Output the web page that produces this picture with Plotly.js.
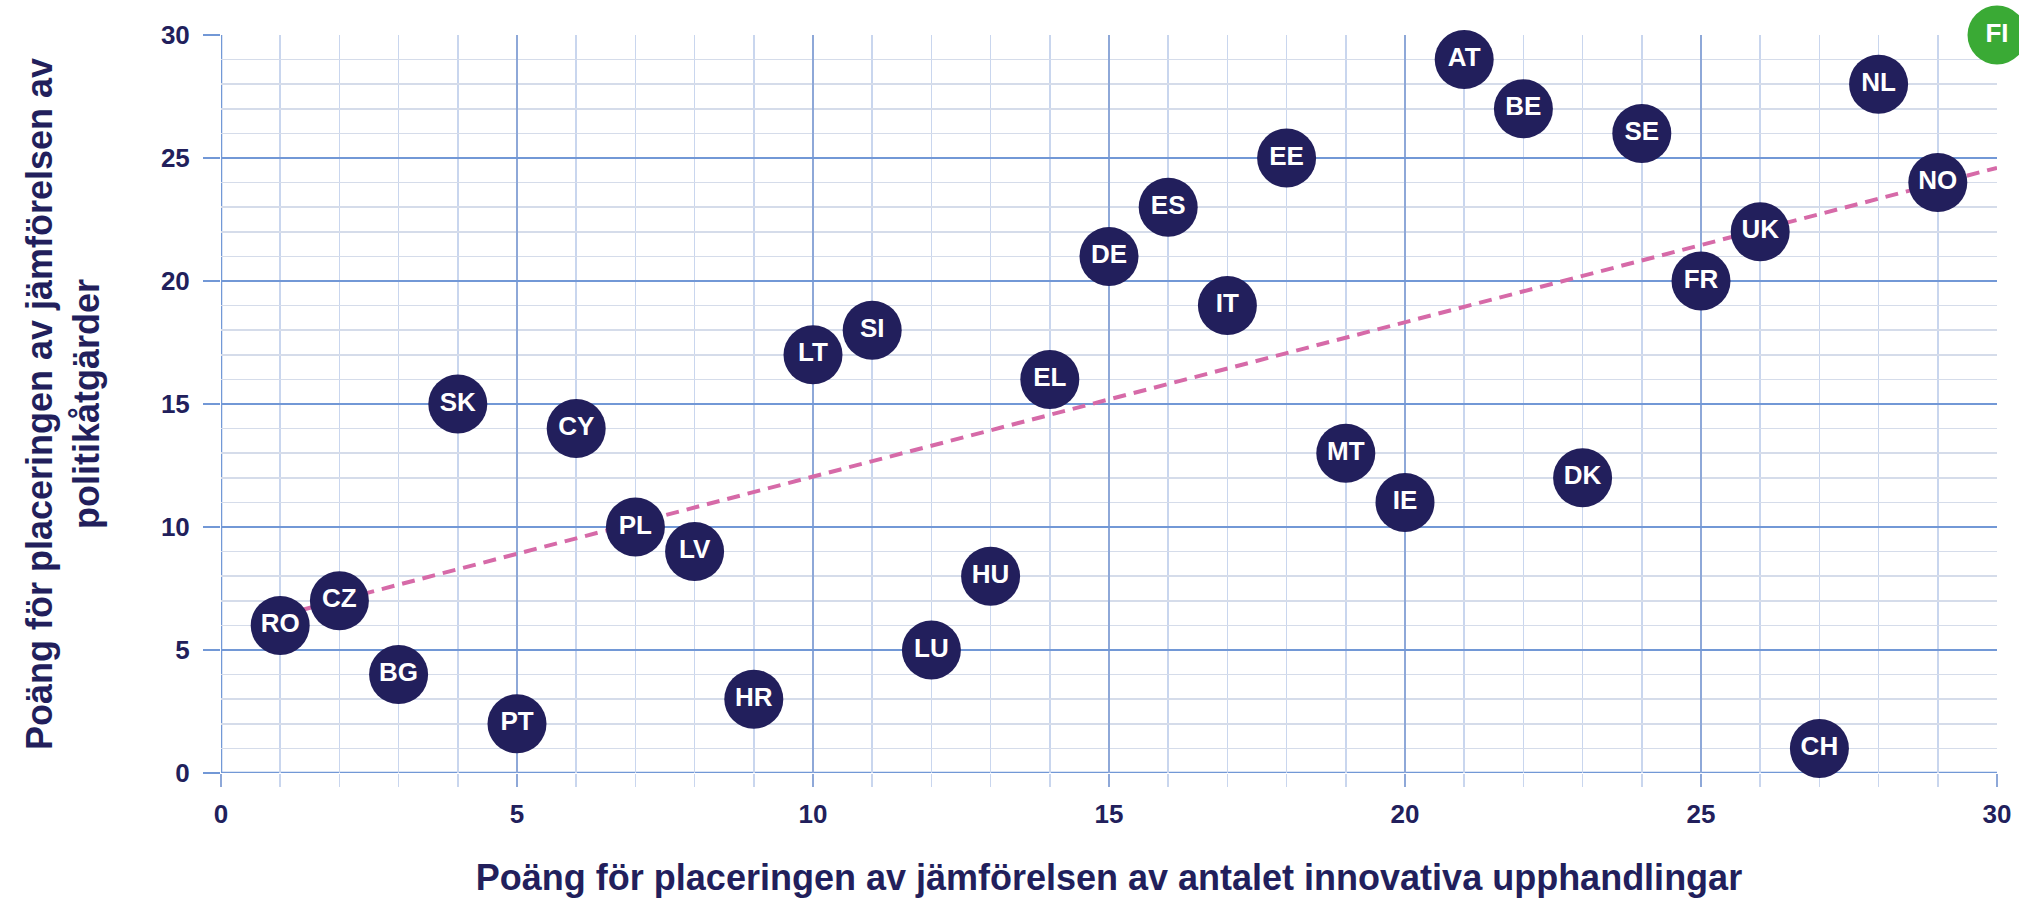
<!DOCTYPE html>
<html>
<head>
<meta charset="utf-8">
<script src="https://cdn.plot.ly/plotly-3.0.1.min.js"></script>
<style>
  html, body { margin: 0; padding: 0; background: #ffffff; }
  #chart { width: 2019px; height: 900px; }
</style>
</head>
<body>
<div id="chart"></div>
<script>
// Countries and their ranking scores
const countries = ["RO","CZ","BG","SK","PT","CY","PL","LV","HR","LT","SI","LU","HU","EL","DE","ES","IT","EE","MT","IE","AT","BE","DK","SE","FR","UK","CH","NL","NO"];
const innovScore = [1,2,3,4,5,6,7,8,9,10,11,12,13,14,15,16,17,18,19,20,21,22,23,24,25,26,27,28,29];
const policyScore = [6,7,4,15,2,14,10,9,3,17,18,5,8,16,21,23,19,25,13,11,29,27,12,26,20,22,1,28,24];

// Highlighted country
const hlCountry = ["FI"];
const hlInnov = [30];
const hlPolicy = [30];

// Trend line
const trendX = [1, 30];
const trendY = [6.4, 24.6];

const navy = "#221f5c";
const font = "Liberation Sans, Arial, sans-serif";

const traces = [
  {
    x: trendX, y: trendY, mode: "lines", type: "scatter",
    line: { color: "#d66aa8", width: 4, dash: "13px,8px" },
    hoverinfo: "skip", cliponaxis: false
  },
  {
    x: innovScore, y: policyScore, text: countries, mode: "markers+text", type: "scatter",
    marker: { size: 59, color: navy, line: { width: 0 } },
    textposition: "middle center",
    textfont: { family: font, size: 26, color: "#ffffff", weight: "bold" },
    cliponaxis: false
  },
  {
    x: hlInnov, y: hlPolicy, text: hlCountry, mode: "markers+text", type: "scatter",
    marker: { size: 59, color: "#3aaa35", line: { width: 0 } },
    textposition: "middle center",
    textfont: { family: font, size: 26, color: "#ffffff", weight: "bold" },
    cliponaxis: false
  }
];

const layout = {
  width: 2019, height: 900,
  margin: { l: 221, r: 22, t: 35, b: 127 },
  paper_bgcolor: "#ffffff", plot_bgcolor: "#ffffff",
  showlegend: false,
  font: { family: font, color: navy },
  xaxis: {
    range: [0, 30], dtick: 5, tick0: 0,
    showgrid: true, gridcolor: "#8ea8d8", gridwidth: 2,
    zeroline: false, showline: false,
    ticks: "outside", ticklen: 13, tickwidth: 2, tickcolor: "#8ea8d8",
    ticklabelstandoff: 5,
    tickfont: { family: font, size: 26, color: navy, weight: "bold" },
    minor: { dtick: 1, showgrid: true, gridcolor: "#c9d6ee", gridwidth: 1.5, ticks: "outside", ticklen: 13, tickwidth: 1.5, tickcolor: "#c9d6ee" },
    title: {
      text: "Poäng för placeringen av jämförelsen av antalet innovativa upphandlingar",
      font: { family: font, size: 36, color: navy, weight: "bold" },
      standoff: 36
    },
    layer: "below traces"
  },
  yaxis: {
    range: [0, 30], dtick: 5, tick0: 0,
    showgrid: true, gridcolor: "#7298d6", gridwidth: 2,
    zeroline: false, showline: false,
    ticks: "outside", ticklen: 17, tickwidth: 2, tickcolor: "#7298d6",
    ticklabelstandoff: 8,
    tickfont: { family: font, size: 26, color: navy, weight: "bold" },
    minor: { dtick: 1, showgrid: true, gridcolor: "#d5dcea", gridwidth: 1.5, ticks: "" },
    title: {
      text: "Poäng för placeringen av jämförelsen av<br>politikåtgärder",
      font: { family: font, size: 36, color: navy, weight: "bold" },
      standoff: 50
    },
    layer: "below traces"
  },
  shapes: [
    { type: "line", xref: "x", yref: "paper", x0: 0, x1: 0, y0: 0, y1: 1, line: { color: "#7298d6", width: 2.5 }, layer: "below" },
    { type: "line", xref: "paper", yref: "y", x0: 0, x1: 1, y0: 0, y1: 0, line: { color: "#7298d6", width: 2.5 }, layer: "below" }
  ]
};

Plotly.newPlot("chart", traces, layout, { displayModeBar: false, staticPlot: true });
</script>
</body>
</html>
